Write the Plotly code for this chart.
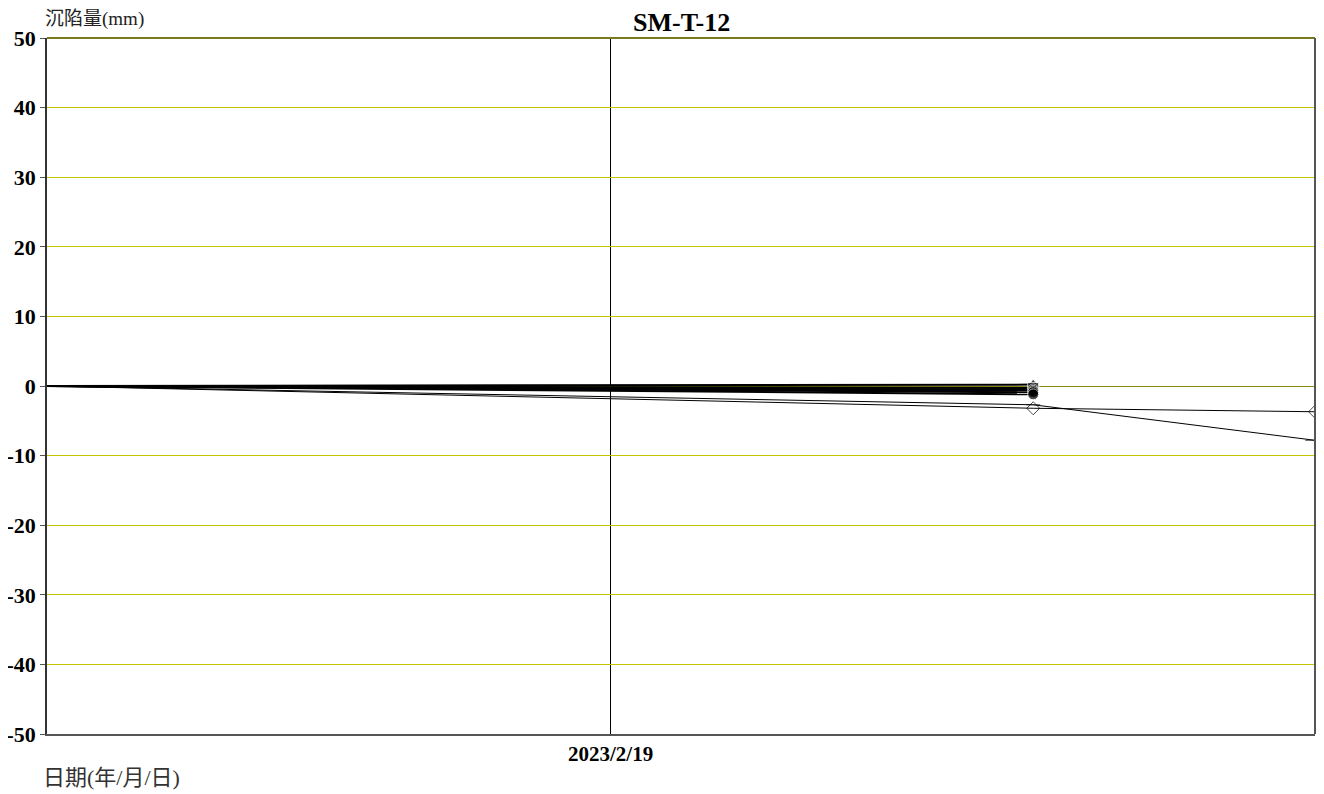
import plotly.graph_objects as go

dates = ["2023-02-15", "2023-02-22"]
dates_long = ["2023-02-15", "2023-02-22", "2023-02-24"]

thick_series = {
    "P1": [0.0, 0.2],
    "P2": [0.0, -0.3],
    "P3": [0.0, -0.5],
    "P4": [0.0, -0.7],
    "P5": [0.0, -0.9],
    "P6": [0.0, -1.2],
}
thick_symbols = ["triangle-up", "square", "circle", "circle", "circle", "circle"]

diamond_vals = [0.0, -3.2, -3.7]
plus_vals = [0.0, -2.7, -7.8]

title_text = "SM-T-12"
y_title = "沉陷量(mm)"
x_title = "日期(年/月/日)"
y_ticks = [50, 40, 30, 20, 10, 0, -10, -20, -30, -40, -50]
y_tick_text = ["50", "40", "30", "20", "10", "0", "-10", "-20", "-30", "-40", "-50"]
x_tick_vals = ["2023-02-19"]
x_tick_text = ["2023/2/19"]

serif = "Liberation Serif, Noto Sans CJK TC, serif"

fig = go.Figure()

for (name, vals), sym in zip(thick_series.items(), thick_symbols):
    fig.add_trace(go.Scatter(
        x=dates, y=vals, mode="lines+markers", name=name,
        line=dict(color="black", width=2),
        marker=dict(symbol=sym, size=[0, 11], color="black"),
        cliponaxis=False,
    ))

fig.add_trace(go.Scatter(
    x=dates_long, y=diamond_vals, mode="lines+markers", name="D",
    line=dict(color="black", width=1),
    marker=dict(symbol="diamond-open", size=[0, 10, 10], color="black",
                line=dict(width=1, color="black")),
    cliponaxis=False,
))
fig.add_trace(go.Scatter(
    x=dates_long, y=plus_vals, mode="lines+markers", name="X",
    line=dict(color="black", width=1),
    marker=dict(symbol="line-ew-open", size=[0, 10, 14], color="black",
                line=dict(width=1, color="black")),
    cliponaxis=False,
))

fig.update_layout(
    width=1324, height=794,
    margin=dict(l=39, r=17, t=30, b=68),
    paper_bgcolor="white", plot_bgcolor="white",
    showlegend=False,
    font=dict(family=serif, color="black"),
    xaxis=dict(
        type="date", range=["2023-02-15", "2023-02-24"], automargin=False,
        tickvals=x_tick_vals, ticktext=["<b>" + t + "</b>" for t in x_tick_text],
        showgrid=True, gridcolor="black", gridwidth=1,
        showline=True, linecolor="#555555", linewidth=2,
        ticks="", tickfont=dict(size=21, family=serif, color="black"),
        zeroline=False,
    ),
    yaxis=dict(
        range=[-50, 50], tickvals=y_ticks, automargin=False,
        ticktext=["<b>" + t + "</b>" for t in y_tick_text],
        showgrid=True, gridcolor="#c4c400", gridwidth=1,
        zeroline=True, zerolinecolor="#8a8a10", zerolinewidth=1,
        showline=True, linecolor="#333333", linewidth=1.5,
        ticks="outside", ticklen=5, tickcolor="#555555",
        tickfont=dict(size=22, family=serif, color="black"),
    ),
    shapes=[
        dict(type="line", xref="paper", yref="paper", x0=0, x1=1, y0=1, y1=1,
             line=dict(color="#7a7a20", width=2)),
        dict(type="line", xref="paper", yref="paper", x0=1, x1=1, y0=0, y1=1,
             line=dict(color="#555555", width=2)),
    ],
    annotations=[
        dict(text="<b>" + title_text + "</b>", xref="paper", yref="paper",
             x=0.5, y=1, yshift=16, xanchor="center", yanchor="middle",
             showarrow=False, font=dict(size=26, family=serif, color="black")),
        dict(text=y_title, xref="paper", yref="paper", x=0, y=1, xshift=-4, yshift=19,
             xanchor="left", yanchor="middle", showarrow=False,
             font=dict(size=19, family=serif, color="#222222")),
        dict(text=x_title, xref="paper", yref="paper", x=0, y=0, xshift=-6, yshift=-43,
             xanchor="left", yanchor="middle", showarrow=False,
             font=dict(size=22, family=serif, color="#333333")),
    ],
)

fig.write_html("out.html")
